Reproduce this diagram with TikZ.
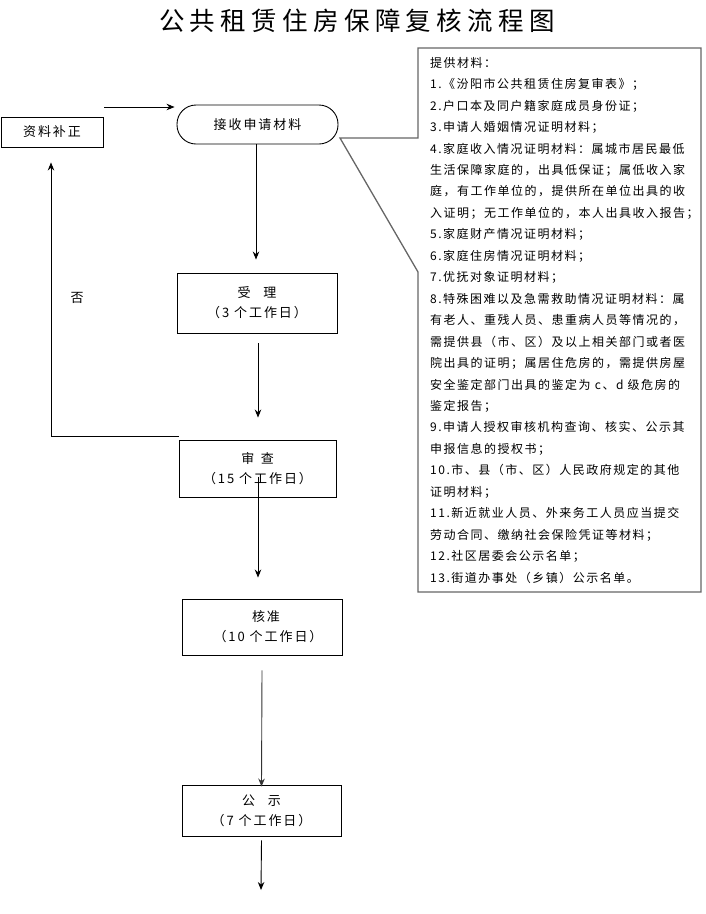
\documentclass[tikz,border=0pt]{standalone}
\usepackage{fontspec}
\usetikzlibrary{arrows.meta}
\newfontfamily\titlefont[LetterSpace=21]{Noto Sans CJK SC}
\newfontfamily\bodyfont[LetterSpace=15]{Noto Sans CJK SC}
\newfontfamily\listfont[LetterSpace=12.5]{Noto Sans CJK SC}
\tikzset{
  box/.style={draw, line width=0.9pt, inner sep=0pt, align=center,
    font=\bodyfont\fontsize{13}{20}\selectfont},
  arr/.style={line width=0.9pt, -{Stealth[length=8pt,width=6.5pt]}},
  callout/.style={draw=black!60, line width=1.3pt},
}
\begin{document}
\begin{tikzpicture}[x=1pt,y=-1pt]
\useasboundingbox (0,0) rectangle (705,914);
% title
\node[font=\titlefont\fontsize{25.5}{28}\selectfont] (title) at (357,21) {公共租赁住房保障复核流程图};
% flow nodes
\node[box, minimum width=102pt, minimum height=30pt] (buzheng) at (52,132) {资料补正};
\node[box, rounded corners=19pt, minimum width=161pt, minimum height=39pt] (jieshou) at (257.5,124.5) {接收申请材料};
\node[box, minimum width=160pt, minimum height=60pt] (shouli) at (257,303) {受\hspace{1em}理\\（3 个工作日）};
\node[box, minimum width=157pt, minimum height=57pt] (shencha) at (257.5,468.5) {审\hspace{0.5em}查\\（15 个工作日）};
\node[box, minimum width=160pt, minimum height=56pt] (hezhun) at (262,627) {\hspace{8pt}核准\\\hspace{12pt}（10 个工作日）};
\node[box, minimum width=159pt, minimum height=51pt] (gongshi) at (261.5,810.5) {公\hspace{1em}示\\（7 个工作日）};
\node[font=\bodyfont\fontsize{13}{16}\selectfont] (fou) at (77,298) {否};
% callout
\coordinate (tip) at (340,138);
\draw[callout] (418,138) -- (418,48) -- (701,48) -- (701,592) -- (418,592) -- (418,272) -- (tip) -- cycle;
\node[anchor=north west, align=left, inner sep=0pt,
  font=\listfont\fontsize{12}{21.45}\selectfont] (mat) at (430,57) {%
提供材料：\\
1.《汾阳市公共租赁住房复审表》；\\
2.户口本及同户籍家庭成员身份证；\\
3.申请人婚姻情况证明材料；\\
4.家庭收入情况证明材料：属城市居民最低\\
生活保障家庭的，出具低保证；属低收入家\\
庭，有工作单位的，提供所在单位出具的收\\
入证明；无工作单位的，本人出具收入报告；\\
5.家庭财产情况证明材料；\\
6.家庭住房情况证明材料；\\
7.优抚对象证明材料；\\
8.特殊困难以及急需救助情况证明材料：属\\
有老人、重残人员、患重病人员等情况的，\\
需提供县（市、区）及以上相关部门或者医\\
院出具的证明；属居住危房的，需提供房屋\\
安全鉴定部门出具的鉴定为 c、d 级危房的\\
鉴定报告；\\
9.申请人授权审核机构查询、核实、公示其\\
申报信息的授权书；\\
10.市、县（市、区）人民政府规定的其他\\
证明材料；\\
11.新近就业人员、外来务工人员应当提交\\
劳动合同、缴纳社会保险凭证等材料；\\
12.社区居委会公示名单；\\
13.街道办事处（乡镇）公示名单。};
% connectors
\coordinate (c1) at (104,107);
\draw[arr] (c1) -- ([xshift=-2pt]c1 -| jieshou.west);
\draw[arr] ([xshift=-1.5pt]jieshou.south) -- ([xshift=-1pt,yshift=13pt]shouli.north);
\draw[arr] ([xshift=1pt,yshift=-10pt]shouli.south) -- ([xshift=0.5pt,yshift=22pt]shencha.north);
\draw[arr] ([yshift=3pt]shencha.north west) -| ([xshift=-1pt,yshift=-15pt]buzheng.south);
\draw[arr] ([xshift=0.5pt,yshift=-8pt]shencha.center) -- ([xshift=-4pt,yshift=21pt]hezhun.north);
\draw[arr, draw=black!80] ([yshift=-15pt]hezhun.south) -- ([yshift=-2pt]gongshi.north);
\coordinate (end) at (261,890);
\draw[arr] ([yshift=-4pt]gongshi.south) -- (end);
\end{tikzpicture}
\end{document}
